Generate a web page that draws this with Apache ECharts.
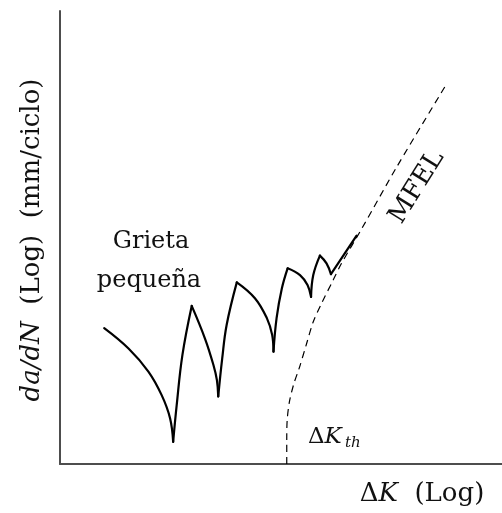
<!DOCTYPE html>
<html>
<head>
<meta charset="utf-8">
<script src="https://cdn.jsdelivr.net/npm/echarts@6/dist/echarts.min.js"></script>
<style>
  html, body { margin: 0; padding: 0; background: #fff; }
  #chart { width: 502px; height: 513px; }
</style>
</head>
<body>
<div id="chart"></div>
<script>
// tramos de la curva de grieta pequeña (x, y en escala 0-100)
const crackSegments = [
  [[10.0, 30.0], [15.5, 25.5], [20.0, 20.4], [23.0, 15.2], [24.9, 10.1], [25.6, 4.9]],
  [[25.6, 4.9], [26.4, 13.0], [27.7, 24.1], [29.8, 34.9]],
  [[29.8, 34.9], [32.8, 27.7], [34.7, 21.9], [35.5, 18.5], [35.8, 14.9]],
  [[35.8, 14.9], [36.7, 23.3], [37.7, 30.7], [40.0, 40.1]],
  [[40.0, 40.1], [44.1, 36.6], [46.8, 32.2], [48.0, 28.5], [48.3, 24.8]],
  [[48.3, 24.8], [49.0, 32.2], [50.2, 38.8], [51.5, 43.2]],
  [[51.5, 43.2], [54.3, 41.7], [56.0, 39.5], [56.8, 36.9]],
  [[56.8, 36.9], [57.3, 41.7], [58.8, 46.0]],
  [[58.8, 46.0], [60.3, 44.3], [61.3, 41.9]],
  [[61.3, 41.9], [67.1, 50.4]]
]

// curva MFEL (discontinua)
const mfelX = [51.3, 51.3, 51.4, 51.9, 52.9, 54.2, 55.8, 57.3, 59.2, 61.8, 63.7, 68.3, 76.2, 87.1]
const mfelY = [0, 5.3, 9.7, 13.7, 17.7, 21.4, 26.6, 31.4, 35.5, 40.6, 44.3, 52.0, 65.6, 83.3]

const serif = '"DejaVu Serif", serif'

const chart = echarts.init(document.getElementById('chart'))

const series = crackSegments.map(seg => ({
  type: 'line',
  data: seg,
  smooth: 0.4,
  symbol: 'none',
  lineStyle: { color: '#000', width: 2.2, cap: 'round' },
  z: 3
}))

series.push({
  type: 'line',
  data: mfelX.map((x, i) => [x, mfelY[i]]),
  smooth: 0.3,
  symbol: 'none',
  lineStyle: { color: '#000', width: 1.2, type: [7, 5] },
  z: 2
})

const option = {
  backgroundColor: '#fff',
  animation: false,
  grid: { left: 60, right: 0, top: 11, bottom: 49 },
  xAxis: {
    type: 'value', min: 0, max: 100,
    axisLine: { show: true, onZero: false, lineStyle: { color: '#4d4d4d', width: 2 } },
    axisTick: { show: false }, axisLabel: { show: false }, splitLine: { show: false }
  },
  yAxis: {
    type: 'value', min: 0, max: 100,
    axisLine: { show: true, onZero: false, lineStyle: { color: '#4d4d4d', width: 2 } },
    axisTick: { show: false }, axisLabel: { show: false }, splitLine: { show: false }
  },
  series: series,
  graphic: [
    {
      type: 'text', x: 151, y: 242,
      style: { text: 'Grieta', font: '24px ' + serif, fill: '#111', textAlign: 'center', textVerticalAlign: 'middle' }
    },
    {
      type: 'text', x: 149, y: 281,
      style: { text: 'pequeña', font: '24px ' + serif, fill: '#111', textAlign: 'center', textVerticalAlign: 'middle' }
    },
    {
      type: 'text', x: 417, y: 187, rotation: 58 * Math.PI / 180,
      style: { text: 'MFEL', font: '26px ' + serif, fill: '#111', textAlign: 'center', textVerticalAlign: 'middle' }
    },
    {
      type: 'text', x: 308, y: 437,
      style: {
        text: '{n|Δ}{i|K}', fill: '#111', textAlign: 'left', textVerticalAlign: 'middle',
        rich: {
          n: { font: '23px ' + serif, fill: '#111' },
          i: { font: 'italic 23px ' + serif, fill: '#111' }
        }
      }
    },
    {
      type: 'text', x: 345, y: 443,
      style: { text: 'th', font: 'italic 15px ' + serif, fill: '#111', textAlign: 'left', textVerticalAlign: 'middle' }
    },
    {
      type: 'text', x: 422, y: 494,
      style: {
        text: '{n|Δ}{i|K}{n|  (Log)}', fill: '#111', textAlign: 'center', textVerticalAlign: 'middle',
        rich: {
          n: { font: '26px ' + serif, fill: '#111' },
          i: { font: 'italic 26px ' + serif, fill: '#111' }
        }
      }
    },
    {
      type: 'text', x: 32, y: 240, rotation: Math.PI / 2,
      style: {
        text: '{i|da/dN}{n|  (Log)  (mm/ciclo)}', fill: '#111', textAlign: 'center', textVerticalAlign: 'middle',
        rich: {
          n: { font: '26px ' + serif, fill: '#111' },
          i: { font: 'italic 26px ' + serif, fill: '#111' }
        }
      }
    }
  ]
}

chart.setOption(option)
</script>
</body>
</html>
